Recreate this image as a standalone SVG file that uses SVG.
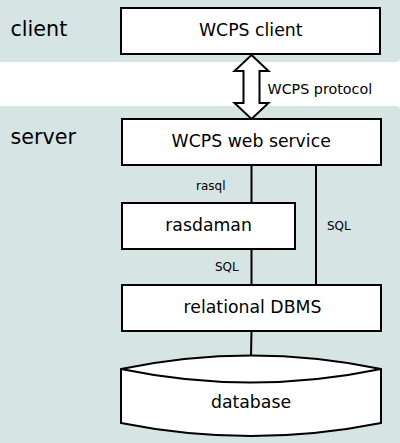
<svg xmlns="http://www.w3.org/2000/svg" width="400" height="443" viewBox="0 0 400 443">
<style>
.bg{fill:#d7e4e4}
.box{fill:#fff;stroke:#000;stroke-width:2}
.line{fill:none;stroke:#000;stroke-width:2}
text{font-family:"DejaVu Sans",sans-serif;fill:#000}
.big{font-size:17.3px;text-anchor:middle}
.zone{font-size:20.7px}
.sm{font-size:12px}
</style>
<rect width="400" height="443" fill="#fff"/>
<path class="bg" d="M0,0 H400 V58 Q400,62 396,62 H0 Z"/>
<path class="bg" d="M0,106 H396 Q400,106 400,110 V443 H0 Z"/>
<text class="zone" x="10.5" y="35.5">client</text>
<text class="zone" x="10.5" y="144">server</text>
<g id="connectors">
<line class="line" x1="251.5" y1="165" x2="251.5" y2="203"/>
<line class="line" x1="316" y1="165" x2="316" y2="285"/>
<line class="line" x1="251.5" y1="249" x2="251.5" y2="285"/>
<line class="line" x1="251.5" y1="331" x2="251" y2="356"/>
<polygon class="box" points="251.5,55 268.5,71 259.5,71 259.5,103 268.5,103 251.5,119 234.5,103 243.5,103 243.5,71 234.5,71"/>
<text x="267.5" y="93.5" style="font-size:14.3px">WCPS protocol</text>
<text class="sm" x="196" y="189.5">rasql</text>
<text class="sm" x="327" y="229.8">SQL</text>
<text class="sm" x="215" y="271.3">SQL</text>
</g>
<g id="wcps-client">
<rect class="box" x="121" y="8" width="259" height="46"/>
<text class="big" x="250.8" y="36">WCPS client</text>
</g>
<g id="wcps-web-service">
<rect class="box" x="122" y="119" width="259" height="46"/>
<text class="big" x="251.2" y="146.7">WCPS web service</text>
</g>
<g id="rasdaman">
<rect class="box" x="122" y="203" width="173" height="46"/>
<text class="big" x="208.6" y="231">rasdaman</text>
</g>
<g id="relational-dbms">
<rect class="box" x="122" y="285" width="259" height="46"/>
<text class="big" x="252.5" y="313.3">relational DBMS</text>
</g>
<g id="database">
<path class="box" d="M121,369 Q251,342 381,369 L381,423 Q251,449 121,423 Z"/>
<path class="line" d="M121,369 Q251,396 381,369"/>
<text class="big" x="251" y="407.7">database</text>
</g>
</svg>
